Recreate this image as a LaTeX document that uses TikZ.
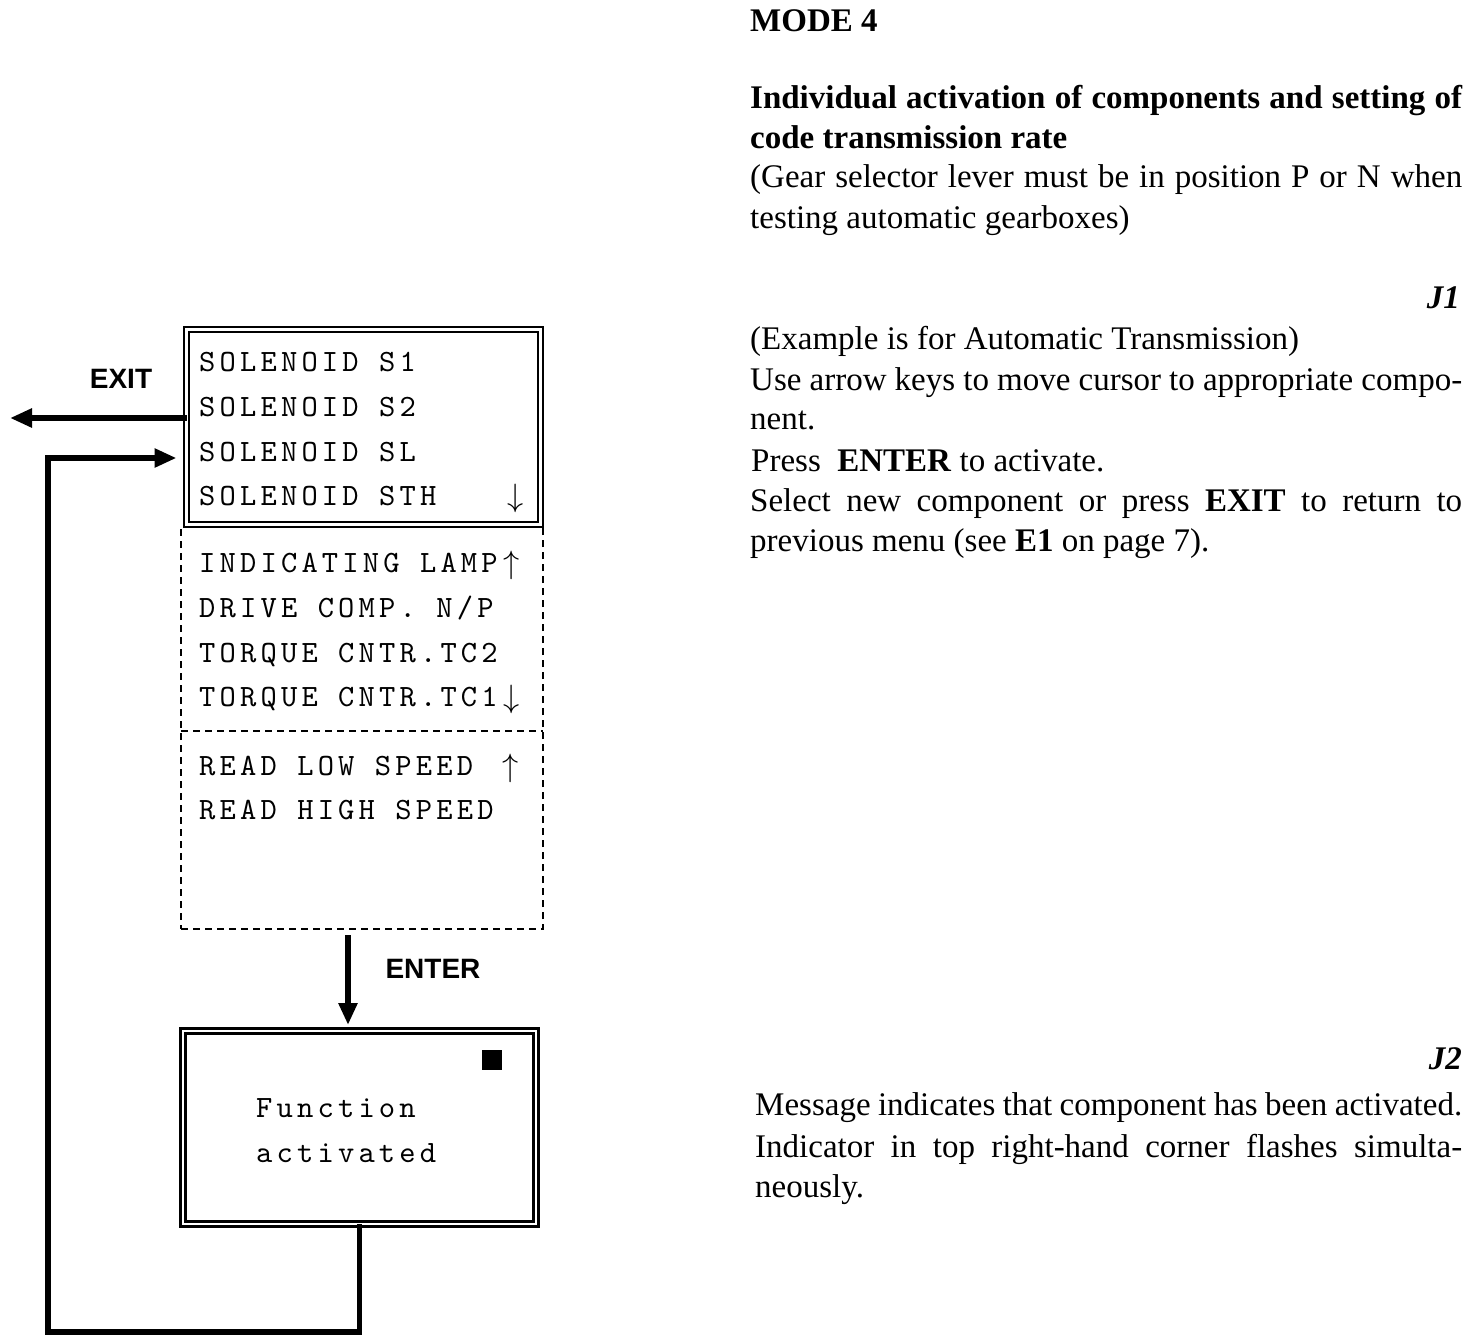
\documentclass[tikz,border=0pt]{standalone}
\usepackage{fontspec}
\setmainfont{Liberation Serif}
\newfontfamily\labelfont{Liberation Sans}
\newfontfamily\lcdfont{lmmono10-regular.otf}[LetterSpace=13.5]
\usetikzlibrary{arrows.meta}
\newcommand{\upar}{\makebox[20pt]{\raisebox{-1pt}{\scalebox{1.3}{$\uparrow$}}}}
\newcommand{\dnar}{\makebox[20pt]{\raisebox{-1pt}{\scalebox{1.3}{$\downarrow$}}}}
\begin{document}
\begin{tikzpicture}[x=1pt,y=-1pt,
  lcd/.style={anchor=base west, inner sep=0pt, font=\fontsize{31}{31}\lcdfont},
  keylabel/.style={anchor=base, inner sep=0pt, font=\fontsize{28}{28}\labelfont\bfseries},
  body/.style={anchor=base west, inner sep=0pt, font=\fontsize{33}{40}\selectfont},
  conn/.style={line width=5.5pt, -{Triangle[length=22pt,width=18pt]}},
  dbl/.style={draw, double, line width=2.3pt, double distance=2.6pt, inner sep=0pt, outer sep=0pt},
  dashbox/.style={draw, line width=1.8pt, dash pattern=on 7pt off 5pt, inner sep=0pt, outer sep=0pt},
  dashline/.style={line width=1.8pt, dash pattern=on 7pt off 5pt}
]
\useasboundingbox[fill=white] (0,0) rectangle (1472,1342);

% boxes
\node[dashbox, minimum width=362pt, minimum height=402pt] (more) at (362,728) {};
\coordinate (sepy) at (362,731);
\draw[dashline] (more.west |- sepy) -- (more.east |- sepy);
\node[dbl, fill=white, minimum width=354pt, minimum height=195pt] (top) at (363.5,427) {};
\node[dbl, line width=2.6pt, double distance=2.4pt, minimum width=353pt, minimum height=193pt] (bot) at (359.5,1127.5) {};
\node[fill=black, minimum size=20pt, inner sep=0pt] (ind) at (492,1060) {};

% menu lines
\node[lcd] (l1) at (199,371) {SOLENOID S1};
\node[lcd] (l2) at (199,416) {SOLENOID S2};
\node[lcd] (l3) at (199,461) {SOLENOID SL};
\node[lcd] (l4) at (199,505) {\makebox[306pt][l]{SOLENOID STH}\dnar};
\node[lcd] (l5) at (199,572) {\makebox[302pt][l]{INDICATING LAMP}\upar};
\node[lcd] (l6) at (199,617) {DRIVE COMP. N/P};
\node[lcd] (l7) at (199,662) {TORQUE CNTR.TC2};
\node[lcd] (l8) at (199,706) {\makebox[302pt][l]{TORQUE CNTR.TC1}\dnar};
\node[lcd] (l9) at (199,775) {\makebox[301pt][l]{READ LOW SPEED}\upar};
\node[lcd] (l10) at (199,819) {READ HIGH SPEED};
\node[lcd] (f1) at (256,1117) {Function};
\node[lcd] (f2) at (256,1162) {activated};

% key labels
\node[keylabel] (exitlbl) at (121,388) {EXIT};
\node[keylabel] (enterlbl) at (433,978) {ENTER};

% connectors
\coordinate (exitend) at (10,418);
\draw[conn] (top.west |- exitend) -- (exitend);
\coordinate (lb) at (48,1332);
\coordinate (lt) at (48,458);
\draw[conn, line join=miter, shorten >=10pt] (bot.south) -- (bot.south |- lb) -- (lb) -- (lt) -- (top.west |- lt);
\coordinate (entx) at (348,0);
\draw[conn, shorten <=6pt, shorten >=6pt] (more.south -| entx) -- (bot.north -| entx);

% right-hand text
\node[body, font=\fontsize{33}{40}\bfseries] (mode) at (750,31) {MODE 4};
\node[body, font=\fontsize{33}{40}\bfseries] (t1) at (750,108) {\makebox[712pt][s]{Individual activation of components and setting of}};
\node[body, font=\fontsize{33}{40}\bfseries] (t2) at (750,148) {code transmission rate};
\node[body] (t3) at (750,187) {\makebox[712pt][s]{(Gear selector lever must be in position P or N when}};
\node[body] (t4) at (750,228) {testing automatic gearboxes)};
\node[body, anchor=base east, font=\fontsize{33}{40}\bfseries\itshape] (j1) at (1460,308) {J1};
\node[body] (t5) at (750,349) {(Example is for Automatic Transmission)};
\node[body] (t6) at (750,390) {\makebox[712pt][s]{Use arrow keys to move cursor to appropriate compo-}};
\node[body] (t7) at (750,429) {nent.};
\node[body] (t8) at (751,471) {Press\ \ \textbf{ENTER} to activate.};
\node[body] (t9) at (750,511) {\makebox[712pt][s]{Select new component or press \textbf{EXIT} to return to}};
\node[body] (t10) at (750,551) {previous menu (see \textbf{E1} on page 7).};
\node[body, anchor=base east, font=\fontsize{33}{40}\bfseries\itshape] (j2) at (1462,1069) {J2};
\node[body] (t11) at (755,1115) {\makebox[707pt][s]{Message indicates that component has been activated.}};
\node[body] (t12) at (755,1157) {\makebox[707pt][s]{Indicator in top right-hand corner flashes simulta-}};
\node[body] (t13) at (755,1197) {neously.};
\end{tikzpicture}
\end{document}
